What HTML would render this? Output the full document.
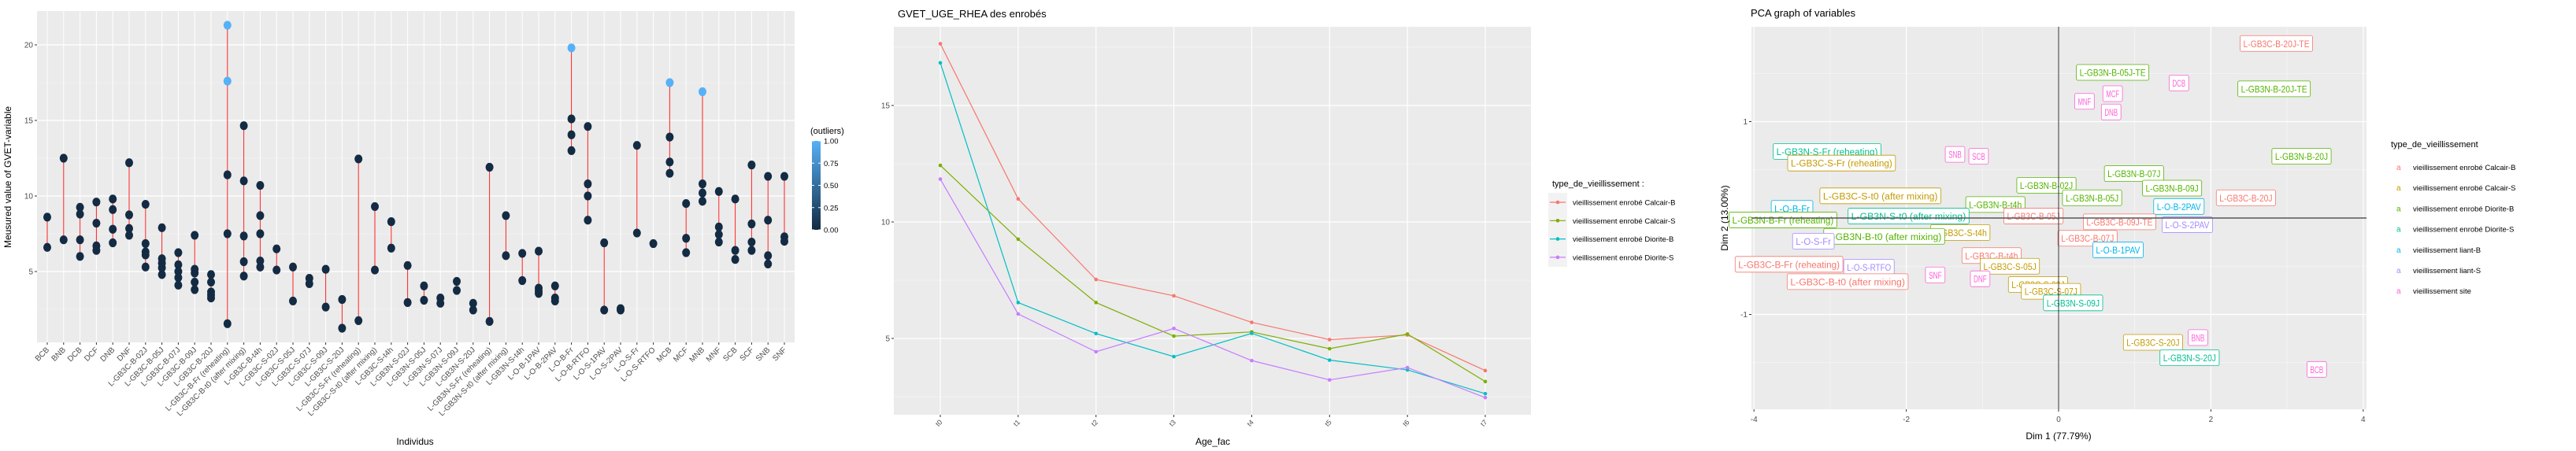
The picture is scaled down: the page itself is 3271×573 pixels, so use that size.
<!DOCTYPE html>
<html><head><meta charset="utf-8"><style>
html,body{margin:0;padding:0;background:#fff;}
svg{display:block;font-family:"Liberation Sans",sans-serif;}
</style></head><body>
<svg id="fig" width="3271" height="573" viewBox="0 0 3271 573" xmlns="http://www.w3.org/2000/svg">
<g id="p1"></g>
<g id="p2"></g>
<g id="p3"></g>
</svg>
<script>
// ---------- Panel 1 data ----------
const p1Categories = ["BCB","BNB","DCB","DCF","DNB","DNF","L-GB3C-B-02J","L-GB3C-B-05J","L-GB3C-B-07J","L-GB3C-B-09J","L-GB3C-B-20J","L-GB3C-B-Fr (reheating)","L-GB3C-B-t0 (after mixing)","L-GB3C-B-t4h","L-GB3C-S-02J","L-GB3C-S-05J","L-GB3C-S-07J","L-GB3C-S-09J","L-GB3C-S-20J","L-GB3C-S-Fr (reheating)","L-GB3C-S-t0 (after mixing)","L-GB3C-S-t4h","L-GB3N-S-02J","L-GB3N-S-05J","L-GB3N-S-07J","L-GB3N-S-09J","L-GB3N-S-20J","L-GB3N-S-Fr (reheating)","L-GB3N-S-t0 (after mixing)","L-GB3N-S-t4h","L-O-B-1PAV","L-O-B-2PAV","L-O-B-Fr","L-O-B-RTFO","L-O-S-1PAV","L-O-S-2PAV","L-O-S-Fr","L-O-S-RTFO","MCB","MCF","MNB","MNF","SCB","SCF","SNB","SNF"];
const p1Values = [[8.6,6.6],[12.5,7.1],[9.25,8.8,7.1,6.0],[9.6,8.2,6.7,6.4],[9.8,9.1,7.8,6.9],[12.2,8.75,7.85,7.4],
[9.45,6.85,6.3,6.1,5.3],[7.9,5.85,5.55,5.25,4.8],[6.25,5.45,5.0,4.6,4.1],[7.4,5.15,4.9,4.3,3.8],[4.8,4.3,3.65,3.45,3.25],
[11.4,7.5,1.55],[14.65,11.0,7.35,5.65,4.7],[10.7,8.7,7.5,5.7,5.3],[6.5,5.1],[5.3,3.05],[4.55,4.2],[5.15,2.65],[3.15,1.25],
[12.45,1.75],[9.3,5.1],[8.3,6.55],[5.4,2.95],[4.05,3.1],[3.25,2.9],[4.35,3.75],[2.9,2.45],[11.9,1.7],[8.7,6.05],[6.2,4.4],
[6.35,3.9,3.7,3.55],[4.05,3.25,3.05],[15.1,14.05,13.0],[14.6,10.8,10.0,8.4],[6.9,2.45],[2.55,2.45],[13.35,7.55],[6.85],
[13.9,12.25,11.5],[9.5,7.2,6.25],[10.8,10.2,9.65],[10.3,7.95,7.45,6.95],[9.8,6.4,5.8],[12.05,8.15,6.95,6.4],[11.3,8.4,6.05,5.5],[11.3,7.3,7.0]];
const p1Outliers = [[],[],[],[],[],[],[],[],[],[],[],[21.3,17.6],[],[],[],[],[],[],[],[],[],[],[],[],[],[],[],[],[],[],[],[],[19.8],[],[],[],[],[],[17.5],[],[16.9],[],[],[],[],[]];
const p1YTicks = [5,10,15,20];
const p1LegendTicks = ["1.00","0.75","0.50","0.25","0.00"];
// ---------- Panel 2 data ----------
const p2Ages = ["t0","t1","t2","t3","t4","t5","t6","t7"];
const p2SeriesNames = ["vieillissement enrobé Calcair-B","vieillissement enrobé Calcair-S","vieillissement enrobé Diorite-B","vieillissement enrobé Diorite-S"];
const p2CalcairB = [17.65,10.99,7.53,6.83,5.69,4.95,5.15,3.62];
const p2CalcairS = [12.43,9.26,6.54,5.1,5.28,4.56,5.19,3.15];
const p2DioriteB = [16.83,6.54,5.21,4.22,5.22,4.07,3.65,2.63];
const p2DioriteS = [11.84,6.05,4.43,5.43,4.05,3.22,3.75,2.46];
const p2YTicks = [5,10,15];
// ---------- Panel 3 data ----------
const p3Groups = ["vieillissement enrobé Calcair-B","vieillissement enrobé Calcair-S","vieillissement enrobé Diorite-B","vieillissement enrobé Diorite-S","vieillissement liant-B","vieillissement liant-S","vieillissement site"];
const p3Labels = ["L-GB3C-B-20J-TE","L-GB3N-B-05J-TE","DCB","L-GB3N-B-20J-TE","MCF","MNF","DNB","L-GB3N-S-Fr (reheating)","SNB","SCB","L-GB3C-S-Fr (reheating)","L-GB3N-B-20J","L-GB3N-B-07J","L-GB3N-B-02J","L-GB3N-B-09J","L-GB3C-S-t0 (after mixing)","L-GB3N-B-05J","L-GB3C-B-20J","L-GB3N-B-t4h","L-O-B-Fr","L-O-B-2PAV","L-GB3N-S-t0 (after mixing)","L-GB3C-B-05J","L-GB3N-B-Fr (reheating)","L-GB3C-B-09J-TE","L-O-S-2PAV","L-GB3C-S-t4h","L-GB3N-B-t0 (after mixing)","L-O-S-Fr","L-GB3C-B-07J","L-O-B-1PAV","L-GB3C-B-t4h","L-GB3C-B-Fr (reheating)","L-O-S-RTFO","L-GB3C-S-05J","SNF","DNF","L-GB3C-B-t0 (after mixing)","L-GB3C-S-09J","L-GB3C-S-07J","L-GB3N-S-09J","BNB","L-GB3C-S-20J","L-GB3N-S-20J","BCB"];
const p3Dim1 = [2.86,0.71,1.58,2.83,0.71,0.34,0.69,-3.04,-1.36,-1.05,-2.85,3.19,0.99,-0.16,1.49,-2.34,0.44,2.46,-0.83,-3.5,1.58,-1.97,-0.33,-3.62,0.80,1.69,-1.29,-2.29,-3.22,0.38,0.78,-0.88,-3.54,-2.49,-0.64,-1.62,-1.03,-2.77,-0.27,-0.10,0.19,1.83,1.24,1.72,3.39];
const p3Dim2 = [1.81,1.51,1.40,1.34,1.29,1.21,1.10,0.69,0.66,0.64,0.57,0.64,0.46,0.34,0.31,0.23,0.21,0.21,0.14,0.10,0.12,0.02,0.02,-0.02,-0.04,-0.07,-0.15,-0.19,-0.24,-0.21,-0.33,-0.39,-0.48,-0.51,-0.50,-0.59,-0.63,-0.66,-0.69,-0.76,-0.88,-1.24,-1.29,-1.45,-1.57];
const p3Group = [0,2,6,2,6,6,6,3,6,6,1,2,2,2,2,1,2,0,2,4,4,3,0,2,0,5,1,2,5,0,4,0,0,5,1,6,6,0,1,1,3,6,1,3,6];
const p3XTicks = [-4,-2,0,2,4];
const p3YTicks = [-1,0,1];
</script>
<script>
const NS="http://www.w3.org/2000/svg";
function mk(parent,tag,attrs,text){const e=document.createElementNS(NS,tag);for(const k in attrs)e.setAttribute(k,attrs[k]);if(text!==undefined)e.textContent=text;parent.appendChild(e);return e;}
const GRAY="#4d4d4d";

// ================= PANEL 1 =================
(function(){
const g=document.getElementById('p1');
const L=47,R=1009,T=14,B=435;
const y=v=>441-v*19.2;
const x=i=>60+i*(996-60)/(p1Categories.length-1);
const bg=mk(g,'rect',{x:L,y:T,width:R-L,height:B-T,fill:'#ebebeb'});


[2.5,7.5,12.5,17.5].forEach(v=>mk(g,'line',{x1:L,x2:R,y1:y(v),y2:y(v),stroke:'#f6f6f6','stroke-width':0.6}));
p1YTicks.forEach(v=>{
  mk(g,'line',{x1:L,x2:R,y1:y(v),y2:y(v),stroke:'#fff','stroke-width':1.2});
  mk(g,'line',{x1:L-3,x2:L,y1:y(v),y2:y(v),stroke:'#333','stroke-width':1});
  const t=mk(g,'text',{x:L-5,y:y(v)+3.5,'text-anchor':'end','font-size':10,fill:GRAY},String(v));
  
  
});
p1Categories.forEach((c,i)=>{
  const xx=x(i);
  mk(g,'line',{x1:xx,x2:xx,y1:T,y2:B,stroke:'#fff','stroke-width':1});
  mk(g,'line',{x1:xx,x2:xx,y1:B,y2:B+3,stroke:'#333','stroke-width':1});
  const t=mk(g,'text',{x:xx+3,y:B+10,'text-anchor':'end','font-size':10,fill:GRAY,transform:`rotate(-45 ${xx+3} ${B+10})`},c);
  
  
  const all=p1Values[i].concat(p1Outliers[i]);
  const mn=Math.min(...all),mx=Math.max(...all);
  if(mx>mn){const ln=mk(g,'line',{x1:xx,x2:xx,y1:y(mn),y2:y(mx),stroke:'#ff2020','stroke-width':1});
    
    }
  p1Values[i].forEach(v=>{const d=mk(g,'ellipse',{cx:xx,cy:y(v),rx:5,ry:5.6,fill:'#132b43'});
    
    });
  p1Outliers[i].forEach(v=>{const d=mk(g,'ellipse',{cx:xx,cy:y(v),rx:5,ry:5.6,fill:'#56b1f7'});
    
    });
});
let t=mk(g,'text',{x:14,y:225,'text-anchor':'middle','font-size':12,fill:'#000',transform:'rotate(-90 14 225)'},'Meusured value of GVET-variable');


t=mk(g,'text',{x:527,y:565,'text-anchor':'middle','font-size':12,fill:'#000'},'Individus');


t=mk(g,'text',{x:1029,y:170,'font-size':11,fill:'#000'},'(outliers)');


const defs=mk(g,'defs',{});
const lg=mk(defs,'linearGradient',{id:'cb',x1:0,y1:0,x2:0,y2:1});
mk(lg,'stop',{offset:0,'stop-color':'#56b1f7'});mk(lg,'stop',{offset:1,'stop-color':'#132b43'});
const cb=mk(g,'rect',{x:1031,y:179,width:11,height:113,fill:'url(#cb)'});


p1LegendTicks.forEach((s,i)=>{const yy=179+i*113/4;
  mk(g,'line',{x1:1031,x2:1034,y1:yy,y2:yy,stroke:'#fff'});mk(g,'line',{x1:1039,x2:1042,y1:yy,y2:yy,stroke:'#fff'});
  const tt=mk(g,'text',{x:1046,y:yy+3.5,'font-size':9.5,fill:'#000'},s);
  
  });
})();

// ================= PANEL 2 =================
(function(){
const g=document.getElementById('p2');
const L=1135,R=1944,T=34,B=527;
const y=v=>430-(v-5)*29.6;
const x=i=>1194+i*(1886-1194)/(p2Ages.length-1);
const colors=['#f8766d','#7cae00','#00bfc4','#c77cff'];
const series=[p2CalcairB,p2CalcairS,p2DioriteB,p2DioriteS];
const bg=mk(g,'rect',{x:L,y:T,width:R-L,height:B-T,fill:'#ebebeb'});


[2.5,7.5,12.5,17.5].forEach(v=>mk(g,'line',{x1:L,x2:R,y1:y(v),y2:y(v),stroke:'#f6f6f6','stroke-width':0.7}));
p2YTicks.forEach(v=>{
  mk(g,'line',{x1:L,x2:R,y1:y(v),y2:y(v),stroke:'#fff','stroke-width':1.2});
  mk(g,'line',{x1:L-3,x2:L,y1:y(v),y2:y(v),stroke:'#333'});
  const t=mk(g,'text',{x:L-5,y:y(v)+3.5,'text-anchor':'end','font-size':10,fill:GRAY},String(v));
  
  
});
p2Ages.forEach((a,i)=>{const xx=x(i);
  mk(g,'line',{x1:xx,x2:xx,y1:T,y2:B,stroke:'#fff','stroke-width':1.2});
  mk(g,'line',{x1:xx,x2:xx,y1:B,y2:B+3,stroke:'#333'});
  const t=mk(g,'text',{x:xx+3,y:B+10,'text-anchor':'end','font-size':9,fill:GRAY,transform:`rotate(-45 ${xx+3} ${B+10})`},a);
  
  
});
series.forEach((s,k)=>{
  const pl=mk(g,'polyline',{points:s.map((v,i)=>x(i)+','+y(v)).join(' '),fill:'none',stroke:colors[k],'stroke-width':1.2});
  
  
  s.forEach((v,i)=>{const c=mk(g,'circle',{cx:x(i),cy:y(v),r:2.3,fill:colors[k]});
    
    });
});
let t=mk(g,'text',{x:1140,y:22,'font-size':13,fill:'#000'},'GVET_UGE_RHEA des enrobés');


t=mk(g,'text',{x:1540,y:565,'text-anchor':'middle','font-size':12,fill:'#000'},'Age_fac');


t=mk(g,'text',{x:1971,y:237,'font-size':11,fill:'#000'},'type_de_vieillissement :');


mk(g,'rect',{x:1966,y:245,width:24,height:94,fill:'#f2f2f2'});
p2SeriesNames.forEach((n,k)=>{const yy=257+k*23.3;
  mk(g,'line',{x1:1968,x2:1988,y1:yy,y2:yy,stroke:colors[k],'stroke-width':1.2});
  mk(g,'circle',{cx:1978,cy:yy,r:2.3,fill:colors[k]});
  const tt=mk(g,'text',{x:1997,y:yy+3.5,'font-size':9.5,fill:'#000'},n);
  
  });
})();

// ================= PANEL 3 =================
(function(){
const g=document.getElementById('p3');
const L=2224,R=3005,T=34,B=520;
const x=d=>2614+d*96.7;
const y=d=>277-d*122.5;
const colors=['#f8766d','#c49a00','#53b400','#00c094','#00b6eb','#a58aff','#fb61d7'];
const bg=mk(g,'rect',{x:L,y:T,width:R-L,height:B-T,fill:'#ebebeb'});


[-3,-1,1,3].forEach(v=>mk(g,'line',{x1:x(v),x2:x(v),y1:T,y2:B,stroke:'#f6f6f6','stroke-width':0.7}));
[-1.5,-0.5,0.5,1.5].forEach(v=>mk(g,'line',{x1:L,x2:R,y1:y(v),y2:y(v),stroke:'#f6f6f6','stroke-width':0.7}));
p3XTicks.forEach(v=>{mk(g,'line',{x1:x(v),x2:x(v),y1:T,y2:B,stroke:'#fff','stroke-width':1.2});
  mk(g,'line',{x1:x(v),x2:x(v),y1:B,y2:B+3,stroke:'#333'});
  const t=mk(g,'text',{x:x(v),y:B+16,'text-anchor':'middle','font-size':10,fill:GRAY},String(v));
  
  });
p3YTicks.forEach(v=>{mk(g,'line',{x1:L,x2:R,y1:y(v),y2:y(v),stroke:'#fff','stroke-width':1.2});
  mk(g,'line',{x1:L-3,x2:L,y1:y(v),y2:y(v),stroke:'#333'});
  const t=mk(g,'text',{x:L-5,y:y(v)+3.5,'text-anchor':'end','font-size':10,fill:GRAY},String(v));
  
  });
const clip=mk(mk(g,'defs',{}),'clipPath',{id:'pc'});
mk(clip,'rect',{x:2150,y:T,width:R-2150,height:B-T});
const lab=mk(g,'g',{'clip-path':'url(#pc)'});
p3Labels.forEach((s,i)=>{
  const cx=x(p3Dim1[i]),cy=y(p3Dim2[i]);const col=colors[p3Group[i]];
  const w=s.length*5.6+8;
  const r=mk(lab,'rect',{x:cx-w/2,y:cy-10,width:w,height:20,rx:2,fill:'#fff',stroke:col,'stroke-width':0.8});
  
  
  const t=mk(lab,'text',{x:cx,y:cy+4.5,'text-anchor':'middle','font-size':11.5,fill:col,textLength:w-8,lengthAdjust:'spacingAndGlyphs'},s);
  
  
});
mk(g,'line',{x1:x(0),x2:x(0),y1:T,y2:B,stroke:'#000','stroke-width':0.8});
mk(g,'line',{x1:L,x2:R,y1:y(0),y2:y(0),stroke:'#555','stroke-width':1.6});
let t=mk(g,'text',{x:2223,y:21,'font-size':13,fill:'#000'},'PCA graph of variables');


t=mk(g,'text',{x:2614,y:558,'text-anchor':'middle','font-size':12,fill:'#000'},'Dim 1 (77.79%)');


t=mk(g,'text',{x:2194,y:277,'text-anchor':'middle','font-size':12,fill:'#000',transform:'rotate(-90 2194 277)'},'Dim 2 (13.00%)');


t=mk(g,'text',{x:3036,y:187,'font-size':11,fill:'#000'},'type_de_vieillissement');


p3Groups.forEach((n,k)=>{const yy=212+k*26.2;
  mk(g,'text',{x:3043,y:yy+4,'font-size':10,fill:colors[k]},'a');
  const tt=mk(g,'text',{x:3064,y:yy+4,'font-size':9.5,fill:'#000'},n);
  
  });
})();
</script>
</body></html>
